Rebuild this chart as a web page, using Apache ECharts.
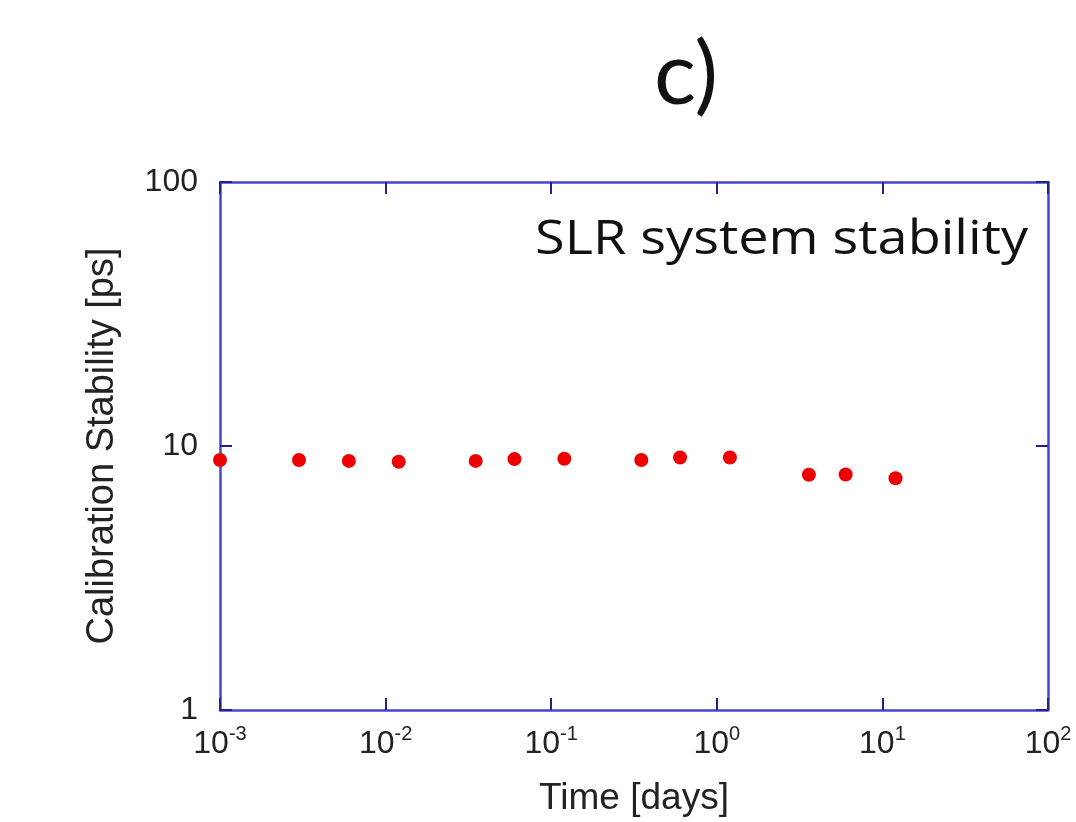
<!DOCTYPE html>
<html>
<head>
<meta charset="utf-8">
<script src="https://cdn.jsdelivr.net/npm/echarts@6/dist/echarts.min.js"></script>
<style>
  html, body { margin: 0; padding: 0; background: #fff; }
  #chart { width: 1076px; height: 822px; }
</style>
</head>
<body>
<div id="chart"></div>
<script>
// 数据 (days, ps)
var timeDays = [0.001, 0.003, 0.006, 0.012, 0.035, 0.06, 0.12, 0.35, 0.6, 1.2, 3.6, 6, 12];
var stability = [8.85, 8.85, 8.78, 8.72, 8.78, 8.92, 8.95, 8.85, 9.05, 9.05, 7.78, 7.8, 7.55];

var axisBlue = '#4646cc';
var tickBlue = '#22228c';

var points = timeDays.map(function (t, i) { return [t, stability[i]]; });

var chart = echarts.init(document.getElementById('chart'));

// x 轴标签: 10 的幂
function xLabel(v) {
    var e = Math.round(Math.log10(v));
    return '{b|10}{s|' + e + '}';
}

var baseAxis = {
    axisLine: { show: true, onZero: false, lineStyle: { color: axisBlue, width: 2.5 } },
    axisTick: { show: true, inside: true, length: 12, lineStyle: { color: tickBlue, width: 2 } },
    splitLine: { show: false },
    minorTick: { show: false }
};

var option = {
    animation: false,
    backgroundColor: '#fff',
    graphic: [{
        type: 'text',
        x: 686, y: 76,
        style: { text: 'c)', font: '88px Lato', fill: '#111', textAlign: 'center', textVerticalAlign: 'middle' }
    }, {
        type: 'text',
        x: 1028, y: 241,
        scaleX: 1.15,
        style: { text: 'SLR system stability', font: '47px "Open Sans"', fill: '#111', textAlign: 'right', textVerticalAlign: 'middle' }
    }],
    grid: { left: 220, right: 28, top: 182, bottom: 112 },
    xAxis: [
        Object.assign({}, baseAxis, {
            type: 'log', logBase: 10, min: 0.001, max: 100,
            position: 'bottom',
            name: 'Time [days]', nameLocation: 'middle', nameGap: 70,
            nameTextStyle: { fontFamily: 'Liberation Sans', fontSize: 37, color: '#222' },
            axisLabel: {
                margin: 14,
                formatter: xLabel,
                rich: {
                    b: { fontFamily: 'Liberation Sans', fontSize: 32, color: '#222', verticalAlign: 'bottom', lineHeight: 34 },
                    s: { fontFamily: 'Liberation Sans', fontSize: 20, color: '#222', verticalAlign: 'top', padding: [0, 0, 16, 0] }
                }
            }
        }),
        Object.assign({}, baseAxis, {
            type: 'log', logBase: 10, min: 0.001, max: 100,
            position: 'top',
            axisLabel: { show: false }
        })
    ],
    yAxis: [
        Object.assign({}, baseAxis, {
            type: 'log', logBase: 10, min: 1, max: 100,
            position: 'left',
            name: 'Calibration Stability [ps]', nameLocation: 'middle', nameGap: 98,
            nameTextStyle: { fontFamily: 'Liberation Sans', fontSize: 38, color: '#222' },
            axisLabel: { margin: 22, fontFamily: 'Liberation Sans', fontSize: 32, color: '#222' }
        }),
        Object.assign({}, baseAxis, {
            type: 'log', logBase: 10, min: 1, max: 100,
            position: 'right',
            axisLabel: { show: false }
        })
    ],
    series: [{
        type: 'scatter',
        data: points,
        symbol: 'circle',
        symbolSize: 14,
        itemStyle: { color: '#ee0000', opacity: 1 },
        clip: false
    }]
};

chart.setOption(option);
</script>
</body>
</html>
